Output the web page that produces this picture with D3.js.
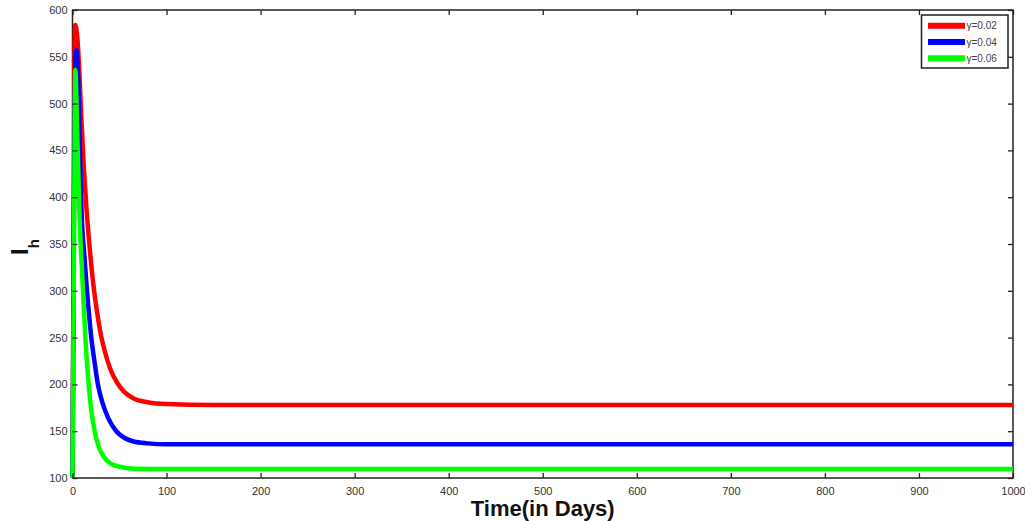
<!DOCTYPE html>
<html>
<head>
<meta charset="utf-8">
<script src="https://cdn.jsdelivr.net/npm/d3@7"></script>
<style>
  body { margin: 0; background: #fff; }
  svg { display: block; font-family: "Liberation Sans", Arial, sans-serif; }
</style>
</head>
<body>
<div id="chart"></div>
<script>
// series data: [t, Ih]
const seriesNames = ['γ=0.02', 'γ=0.04', 'γ=0.06'];
const seriesColors = ['#ff0000', '#0000ff', '#00ff00'];

const red = [[0,100],[1.5,400],[2.2,560],[3,584],[5,572],[7,540],[9.5,482],[12,433],[15,386],[18,349],
  [22,308],[26,278],[30,254],[35,233],[40,217],[48,201],[55,192],[65,185],[80,181],[100,179],[150,178],[1000,178]];
const blue = [[0,100],[1.5,380],[2.6,520],[4,557],[6,530],[8,440],[10,375],[12,345],[15.4,300],[20,250],
  [24,220],[27,200],[32,180],[38,164],[46.6,150],[55,143],[65,139],[80,137],[100,136],[200,136],[1000,136]];
const green = [[0,100],[1.5,330],[2.4,480],[3,536],[5,470],[7.6,375],[8.7,350],[11.2,300],[13.7,250],[17.2,200],
  [20,172],[23.6,150],[28,133],[33,123],[41,115],[50,112],[65,110],[100,109.5],[1000,109.5]];

const xTicks = [0,100,200,300,400,500,600,700,800,900,1000];
const yTicks = [100,150,200,250,300,350,400,450,500,550,600];

const width = 1025, height = 521;
const margin = {left: 72.5, right: 12, top: 10, bottom: 43};

const svg = d3.select('#chart').append('svg')
  .attr('width', width)
  .attr('height', height);

const x = d3.scaleLinear().domain([0, 1000]).range([margin.left, width - margin.right]);
const y = d3.scaleLinear().domain([100, 600]).range([height - margin.bottom, margin.top]);

const tickColor = '#222';

// frame
svg.append('rect')
  .attr('x', x(0)).attr('y', y(600))
  .attr('width', x(1000) - x(0)).attr('height', y(100) - y(600))
  .attr('fill', 'none').attr('stroke', tickColor).attr('stroke-width', 1.5);

// lines
const line = d3.line()
  .x(d => x(d[0]))
  .y(d => y(d[1]))
  .curve(d3.curveMonotoneX);

[red, blue, green].forEach((s, i) => {
  svg.append('path')
    .datum(s)
    .attr('fill', 'none')
    .attr('stroke', seriesColors[i])
    .attr('stroke-width', 4.5)
    .attr('stroke-linejoin', 'round')
    .attr('d', line);
});

// axes, ticks point inward
const fmt = d3.format('d');
const gx = svg.append('g')
  .attr('transform', 'translate(0,' + y(100) + ')')
  .call(d3.axisBottom(x).tickValues(xTicks).tickFormat(fmt).tickSizeInner(-5).tickSizeOuter(0).tickPadding(9));
const gy = svg.append('g')
  .attr('transform', 'translate(' + x(0) + ',0)')
  .call(d3.axisLeft(y).tickValues(yTicks).tickFormat(fmt).tickSizeInner(-5).tickSizeOuter(0).tickPadding(5));
const gt = svg.append('g')
  .attr('transform', 'translate(0,' + y(600) + ')')
  .call(d3.axisTop(x).tickValues(xTicks).tickSizeInner(-5).tickSizeOuter(0).tickFormat(''));
const gr = svg.append('g')
  .attr('transform', 'translate(' + x(1000) + ',0)')
  .call(d3.axisRight(y).tickValues(yTicks).tickSizeInner(-5).tickSizeOuter(0).tickFormat(''));

[gx, gy, gt, gr].forEach(g => {
  g.select('.domain').remove();
  g.selectAll('line').attr('stroke', tickColor).attr('stroke-width', 1.3);
  g.selectAll('text').attr('fill', '#333').style('font-size', '11px');
});

// axis titles
svg.append('text')
  .attr('x', (x(0) + x(1000)) / 2)
  .attr('y', 516)
  .attr('text-anchor', 'middle')
  .style('font-size', '22px')
  .style('font-weight', 'bold')
  .attr('fill', '#111')
  .text('Time(in Days)');

const ylab = svg.append('text')
  .attr('transform', 'translate(28,255) rotate(-90)')
  .style('font-weight', 'bold')
  .attr('fill', '#111');
ylab.append('tspan').style('font-size', '24px').text('I');
ylab.append('tspan').style('font-size', '15px').attr('dy', 11).text('h');

// legend
const lg = svg.append('g').attr('transform', 'translate(921.5,15)');
lg.append('rect')
  .attr('width', 86.5).attr('height', 53)
  .attr('fill', '#fff').attr('stroke', tickColor).attr('stroke-width', 1.5);
seriesNames.forEach((name, i) => {
  const yy = 10.7 + i * 16.3;
  lg.append('line')
    .attr('x1', 6.5).attr('x2', 43.5).attr('y1', yy).attr('y2', yy)
    .attr('stroke', seriesColors[i]).attr('stroke-width', 6);
  lg.append('text')
    .attr('x', 45).attr('y', yy + 3.5)
    .style('font-size', '10px')
    .attr('fill', '#444')
    .text(name);
});
</script>
</body>
</html>
